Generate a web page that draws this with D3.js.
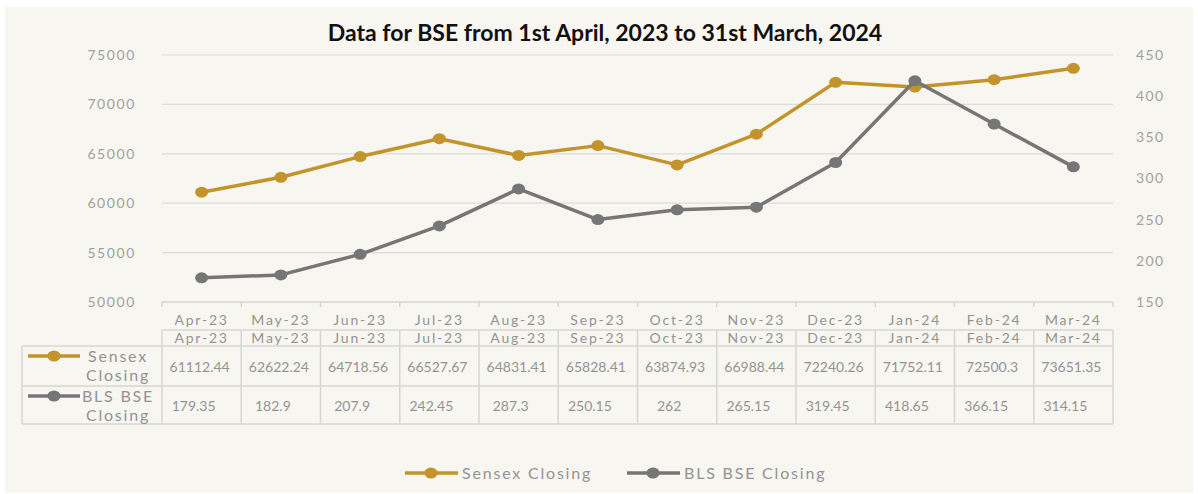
<!DOCTYPE html>
<html>
<head>
<meta charset="utf-8">
<script src="https://cdn.jsdelivr.net/npm/d3@7"></script>
<style>
  body { margin: 0; background: #fff; }
  svg text { font-family: "Lato", "DejaVu Sans", sans-serif; }
</style>
</head>
<body>
<script>
// Data
const months = ["Apr-23", "May-23", "Jun-23", "Jul-23", "Aug-23", "Sep-23",
                "Oct-23", "Nov-23", "Dec-23", "Jan-24", "Feb-24", "Mar-24"];
const sensex = [61112.44, 62622.24, 64718.56, 66527.67, 64831.41, 65828.41,
                63874.93, 66988.44, 72240.26, 71752.11, 72500.3, 73651.35];
const blsBse = [179.35, 182.9, 207.9, 242.45, 287.3, 250.15,
                262, 265.15, 319.45, 418.65, 366.15, 314.15];
const leftTicks = [50000, 55000, 60000, 65000, 70000, 75000];
const rightTicks = [150, 200, 250, 300, 350, 400, 450];
const seriesNames = ["Sensex Closing", "BLS BSE Closing"];
const seriesLabels = [["Sensex", "Closing"], ["BLS BSE", "Closing"]];

const W = 1198, H = 494;
const gold = "#c3942b", grey = "#767676";
const gridCol = "#dedcd8", textCol = "#939393";

const svg = d3.select("body").append("svg")
    .attr("width", W)
    .attr("height", H);

// chart background
svg.append("rect")
    .attr("x", 5).attr("y", 7)
    .attr("width", 1188).attr("height", 486)
    .attr("fill", "#f8f6f0");

// Title
svg.append("text")
    .attr("x", 605).attr("y", 41)
    .attr("text-anchor", "middle")
    .attr("font-size", 23)
    .attr("font-weight", 700)
    .attr("fill", "#111")
    .text("Data for BSE from 1st April, 2023 to 31st March, 2024");

// Scales
const x = d3.scaleBand().domain(months).range([162, 1113]).padding(0);
const yL = d3.scaleLinear().domain([50000, 75000]).range([302, 55]);
const yR = d3.scaleLinear().domain([150, 450]).range([302, 55]);
const cx = d => x(d) + x.bandwidth() / 2;

// Gridlines
svg.append("g")
    .selectAll("line")
    .data(leftTicks.slice(1))
    .join("line")
    .attr("x1", 162).attr("x2", 1113)
    .attr("y1", d => yL(d)).attr("y2", d => yL(d))
    .attr("stroke", gridCol).attr("stroke-width", 1.2);

// Left axis
svg.append("g")
    .attr("transform", "translate(136,0)")
    .call(d3.axisLeft(yL).tickValues(leftTicks).tickFormat(d3.format("d")).tickSize(0).tickPadding(0))
    .call(g => g.select(".domain").remove())
    .call(g => g.selectAll("text")
        .attr("font-size", 14).attr("fill", "#a0a0a0")
        .attr("letter-spacing", 1.6).attr("font-family", "Lato"));

// Right axis
svg.append("g")
    .attr("transform", "translate(1136,0)")
    .call(d3.axisRight(yR).tickValues(rightTicks).tickFormat(d3.format("d")).tickSize(0).tickPadding(0))
    .call(g => g.select(".domain").remove())
    .call(g => g.selectAll("text")
        .attr("font-size", 14).attr("fill", "#a0a0a0")
        .attr("letter-spacing", 1.4).attr("font-family", "Lato"));

// Bottom axis line and tick marks at band edges
const edges = months.map(m => x(m)).concat([x.range()[1]]);
svg.append("line")
    .attr("x1", 162).attr("x2", 1113)
    .attr("y1", 302).attr("y2", 302)
    .attr("stroke", "#d6d4d0").attr("stroke-width", 1.5);
svg.append("g").selectAll("line")
    .data(edges)
    .join("line")
    .attr("x1", d => d).attr("x2", d => d)
    .attr("y1", 302).attr("y2", 307)
    .attr("stroke", "#d6d4d0").attr("stroke-width", 1.5);

// Category labels under the axis
svg.append("g").selectAll("text")
    .data(months)
    .join("text")
    .attr("x", d => cx(d)).attr("y", 325)
    .attr("text-anchor", "middle")
    .attr("font-size", 14).attr("letter-spacing", 1.8)
    .attr("fill", textCol)
    .text(d => d);

// Lines
const series = [
    { name: seriesNames[0], values: sensex, y: yL, color: gold },
    { name: seriesNames[1], values: blsBse, y: yR, color: grey }
];

series.forEach(s => {
    const line = d3.line()
        .x((d, i) => cx(months[i]))
        .y(d => s.y(d));
    svg.append("path")
        .datum(s.values)
        .attr("d", line)
        .attr("fill", "none")
        .attr("stroke", s.color)
        .attr("stroke-width", 3.5)
        .attr("stroke-linejoin", "round");
    svg.append("g").selectAll("ellipse")
        .data(s.values)
        .join("ellipse")
        .attr("cx", (d, i) => cx(months[i]))
        .attr("cy", d => s.y(d))
        .attr("rx", 6.5).attr("ry", 5.5)
        .attr("fill", s.color);
});

// Data table
const tTop = 330, hdrB = 346, r1B = 386, r2B = 424, legL = 22;
const tbl = svg.append("g")
    .attr("stroke", "#d8d6d2").attr("stroke-width", 1.5).attr("fill", "none");
// horizontal lines
tbl.append("line").attr("x1", 162).attr("x2", 1113).attr("y1", tTop).attr("y2", tTop);
[hdrB, r1B, r2B].forEach(yy => {
    tbl.append("line").attr("x1", legL).attr("x2", 1113).attr("y1", yy).attr("y2", yy);
});
// vertical lines
edges.forEach(e => {
    tbl.append("line").attr("x1", e).attr("x2", e).attr("y1", tTop).attr("y2", r2B);
});
tbl.append("line").attr("x1", legL).attr("x2", legL).attr("y1", hdrB).attr("y2", r2B);

// header row
svg.append("g").selectAll("text")
    .data(months)
    .join("text")
    .attr("x", d => cx(d)).attr("y", 343)
    .attr("text-anchor", "middle")
    .attr("font-size", 14).attr("letter-spacing", 1.8)
    .attr("fill", textCol)
    .text(d => d);

// value rows
svg.append("g").selectAll("text")
    .data(sensex)
    .join("text")
    .attr("x", (d, i) => cx(months[i]) - 2).attr("y", 372)
    .attr("text-anchor", "middle")
    .attr("font-size", 14).attr("letter-spacing", 0)
    .attr("fill", textCol)
    .text(d => d);

svg.append("g").selectAll("text")
    .data(blsBse)
    .join("text")
    .attr("x", (d, i) => cx(months[i]) - 8).attr("y", 411)
    .attr("text-anchor", "middle")
    .attr("font-size", 14).attr("letter-spacing", 0)
    .attr("fill", textCol)
    .text(d => d);

// row headers with legend keys
const rowTops = [hdrB, r1B];
series.forEach((s, i) => {
    const top = rowTops[i];
    svg.append("line")
        .attr("x1", 28).attr("x2", 80)
        .attr("y1", top + 10).attr("y2", top + 10)
        .attr("stroke", s.color).attr("stroke-width", 3.5);
    svg.append("ellipse")
        .attr("cx", 54).attr("cy", top + 10)
        .attr("rx", 6.5).attr("ry", 5.5)
        .attr("fill", s.color);
    seriesLabels[i].forEach((t, j) => {
        svg.append("text")
            .attr("x", 118).attr("y", top + 16 + j * 19)
            .attr("text-anchor", "middle")
            .attr("font-size", 16).attr("letter-spacing", 1.8)
            .attr("fill", textCol)
            .text(t);
    });
});

// Bottom legend
const legX = [405, 627];
series.forEach((s, i) => {
    const g = svg.append("g").attr("transform", `translate(${legX[i]},473)`);
    g.append("line")
        .attr("x1", 0).attr("x2", 53)
        .attr("stroke", s.color).attr("stroke-width", 3.5);
    g.append("ellipse")
        .attr("cx", 26).attr("rx", 6.5).attr("ry", 5.5)
        .attr("fill", s.color);
    g.append("text")
        .attr("x", 57).attr("y", 5.5)
        .attr("font-size", 16).attr("letter-spacing", 1.8)
        .attr("fill", textCol)
        .text(s.name);
});
</script>
</body>
</html>
